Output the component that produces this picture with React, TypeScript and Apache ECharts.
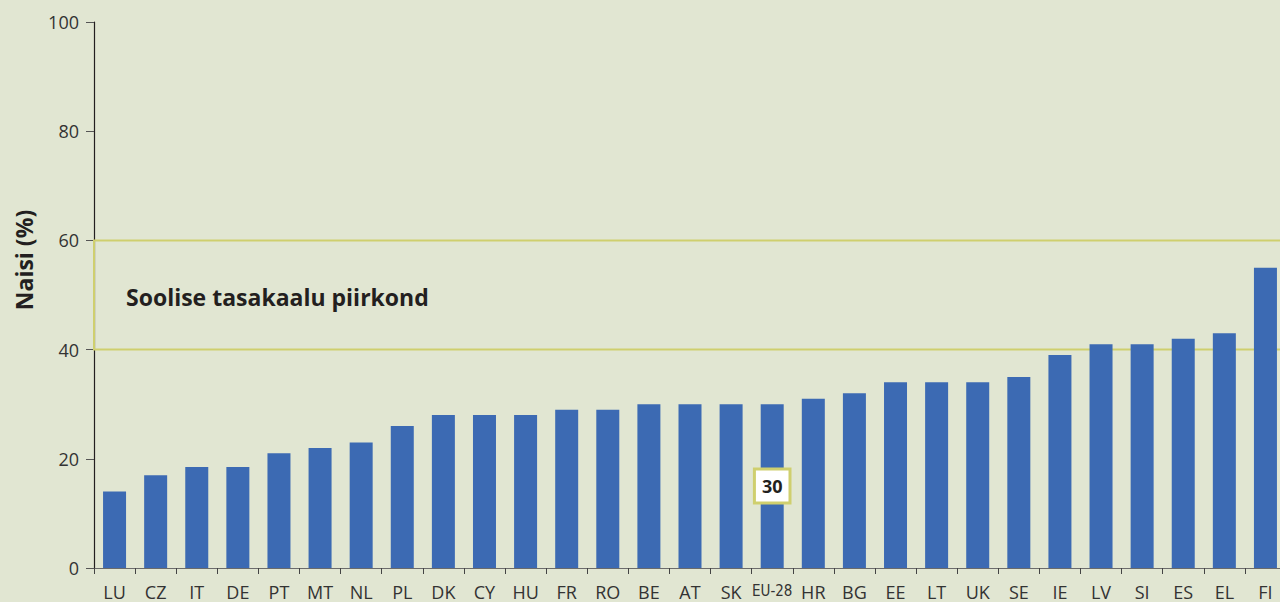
import React, { useEffect, useRef } from "react";
import * as echarts from "echarts";

const categories = ["LU","CZ","IT","DE","PT","MT","NL","PL","DK","CY","HU","FR","RO","BE","AT","SK","EU-28","HR","BG","EE","LT","UK","SE","IE","LV","SI","ES","EL","FI"];
const womenShare = [14,17,18.5,18.5,21,22,23,26,28,28,28,29,29,30,30,30,30,31,32,34,34,34,35,39,41,41,42,43,55];
const highlightCategory = "EU-28";
const zoneBounds = [40, 60];
const zoneLabel = "Soolise tasakaalu piirkond";
const yAxisTitle = "Naisi (%)";

const FONT = "'Open Sans', 'Noto Sans', sans-serif";

export default function App() {
  const ref = useRef<HTMLDivElement>(null);
  useEffect(() => {
    if (!ref.current) return;
    const chart = echarts.init(ref.current, undefined, { renderer: "svg" });
    const data = womenShare.map((v, i) =>
      categories[i] === highlightCategory
        ? {
            value: v,
            label: {
              show: true,
              position: "inside",
              formatter: "{c}",
              color: "#231f20",
              fontWeight: "bold",
              fontSize: 18,
              fontFamily: FONT,
              backgroundColor: "#ffffff",
              borderColor: "#cfcf6e",
              borderWidth: 3,
              padding: [6, 6, 5, 6],
              lineHeight: 20,
            },
          }
        : v
    );
    chart.setOption({
      animation: false,
      backgroundColor: "#e1e6d2",
      textStyle: { fontFamily: FONT },
      grid: { left: 94, top: 22, bottom: 34, right: 34, containLabel: false },
      xAxis: {
        type: "category",
        data: categories,
        z: 0,
        axisLine: { lineStyle: { color: "#6b6b6b", width: 1 } },
        axisTick: { show: true, length: 6, interval: 0, lineStyle: { color: "#444" } },
        axisLabel: {
          interval: 0,
          margin: 15,
          fontSize: 18,
          color: "#333",
          fontFamily: FONT,
          formatter: (v: string) => (v === highlightCategory ? "{eu|" + v + "}" : v),
          rich: {
            eu: { fontSize: 15, color: "#333", fontFamily: "'DejaVu Sans Condensed', 'Liberation Sans Narrow', sans-serif" },
          },
        },
      },
      yAxis: {
        type: "value",
        min: 0,
        max: 100,
        interval: 20,
        z: 0,
        axisLine: { show: true, lineStyle: { color: "#231f20", width: 1.2 } },
        axisTick: { show: true, length: 8, lineStyle: { color: "#555" } },
        axisLabel: { fontSize: 18, color: "#333", margin: 15, fontFamily: FONT },
        splitLine: { show: false },
      },
      series: [
        {
          type: "line",
          data: [],
          z: 1,
          silent: true,
          markArea: {
            silent: true,
            itemStyle: { color: "rgba(0,0,0,0)", borderColor: "#cfcf6e", borderWidth: 2 },
            data: [[{ yAxis: zoneBounds[0] }, { yAxis: zoneBounds[1] }]],
          },
        },
        {
          type: "bar",
          data,
          z: 3,
          barWidth: 23,
          itemStyle: { color: "#3c6ab3" },
        },
      ],
      graphic: [
        {
          type: "text",
          x: 24,
          y: 260,
          rotation: Math.PI / 2,
          style: {
            text: yAxisTitle,
            fontSize: 23,
            fontWeight: "bold",
            fontFamily: FONT,
            fill: "#231f20",
            textAlign: "center",
            textVerticalAlign: "middle",
          },
        },
        {
          type: "text",
          x: 126,
          y: 297,
          style: {
            text: zoneLabel,
            fontSize: 23,
            fontWeight: "bold",
            fontFamily: FONT,
            fill: "#231f20",
            textAlign: "left",
            textVerticalAlign: "middle",
          },
        },
      ],
    });
    return () => chart.dispose();
  }, []);
  return (
    <div style={{ position: "absolute", left: 0, top: 0, width: 1280, height: 602, overflow: "hidden" }}>
      <div ref={ref} style={{ width: 1320, height: 602 }} />
    </div>
  );
}
